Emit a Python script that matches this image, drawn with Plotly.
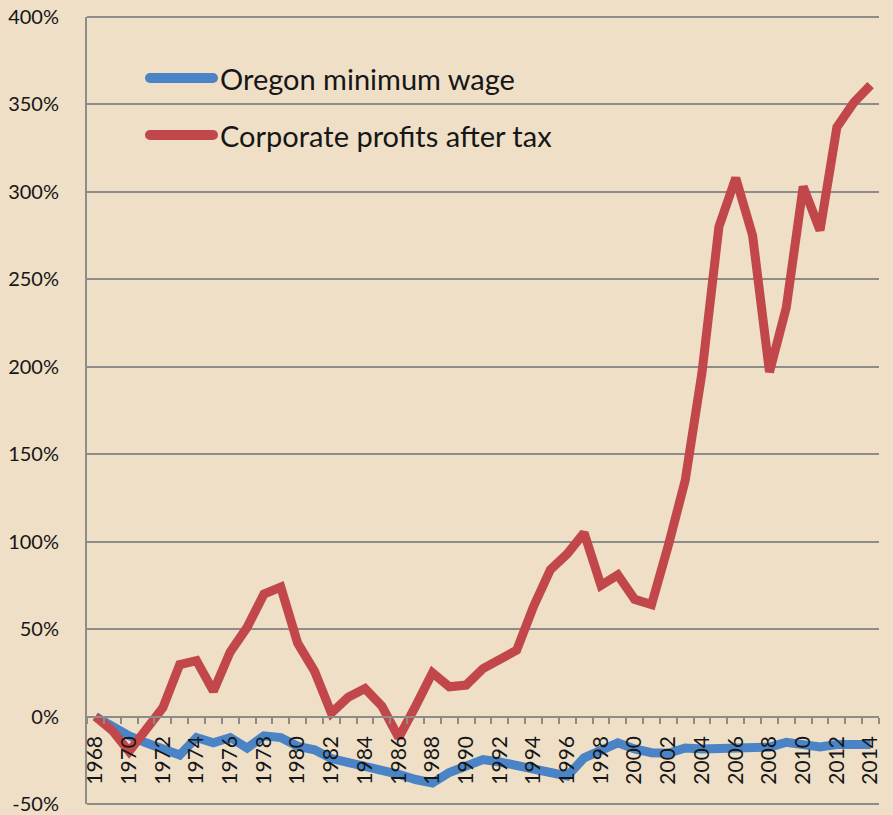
import plotly.graph_objects as go

years = list(range(1968, 2015))

min_wage = [0, -6, -11, -15, -18, -22, -12, -15, -12, -18,
            -11, -12, -17, -19, -24, -26, -29, -30, -33, -36,
            -38, -32, -28.5, -24.6, -26, -28.5, -30, -32, -34, -23.6,
            -19, -15, -18.5, -20.7, -21, -18, -18.5, -18.5, -18, -18,
            -17.5, -14.7, -16.6, -17.4, -16, -16, -16]

profits = [0, -8, -20, -8, 5, 29.7, 32, 14.5, 37, 51,
           70, 74, 42, 26, 2, 11, 16, 6, -12, 6,
           25, 17, 18, 27.4, 33, 38, 63, 84, 93, 105,
           75, 81, 67, 64, 98, 135, 197, 280, 308, 275,
           197, 234, 303, 278, 337, 351, 361]

series_names = ["Oregon minimum wage", "Corporate profits after tax"]

y_ticks = [-50, 0, 50, 100, 150, 200, 250, 300, 350, 400]
y_labels = [f"{v}%" for v in y_ticks]
x_label_years = list(range(1968, 2015, 2))
boundaries = [y - 0.5 for y in range(1968, 2016)]

BLUE = "#4a84c6"
RED = "#c2474a"
GRID = "#8e8c88"
TEXT = "#161616"
FONT = "Lato"

W, H = 893, 815
ML, MR, MT, MB = 87, 14, 17, 11
PW, PH = W - ML - MR, H - MT - MB


def px_to_paper(px, py):
    return (px - ML) / PW, (H - MB - py) / PH


fig = go.Figure()
fig.add_trace(go.Scatter(x=years, y=min_wage, mode="lines", name=series_names[0],
                         line=dict(color=BLUE, width=9), showlegend=False, cliponaxis=False))
fig.add_trace(go.Scatter(x=years, y=profits, mode="lines", name=series_names[1],
                         line=dict(color=RED, width=9), showlegend=False, cliponaxis=False))

ymin, ymax = -50, 400

# gridlines at the range edges (top and bottom of the plot area)
shapes = [dict(type="line", xref="paper", yref="paper", x0=0, x1=1, y0=yp, y1=yp,
               line=dict(color=GRID, width=2), layer="below") for yp in (0, 1)]
annotations = []
# manual legend (decoration)
for name, color, py in [(series_names[0], BLUE, 78), (series_names[1], RED, 135)]:
    x0, y0 = px_to_paper(150, py)
    x1, _ = px_to_paper(213, py)
    shapes.append(dict(type="line", xref="paper", yref="paper", x0=x0, x1=x1, y0=y0, y1=y0,
                       line=dict(color=color, width=10)))
    for cx in (150, 213):
        a0, b0 = px_to_paper(cx - 5, py - 5)
        a1, b1 = px_to_paper(cx + 5, py + 5)
        shapes.append(dict(type="circle", xref="paper", yref="paper", x0=a0, x1=a1, y0=b0, y1=b1,
                           fillcolor=color, line=dict(width=0)))
    tx, ty = px_to_paper(218, py)
    annotations.append(dict(text=name, xref="paper", yref="paper", x=tx, y=ty,
                            xanchor="left", yanchor="middle", showarrow=False,
                            font=dict(size=29, family=FONT, color=TEXT)))

fig.update_layout(
    width=W, height=H,
    margin=dict(l=ML, r=MR, t=MT, b=MB),
    paper_bgcolor="#eedfc6",
    plot_bgcolor="rgba(0,0,0,0)",
    font=dict(family=FONT, color=TEXT),
    showlegend=False,
    shapes=shapes,
    annotations=annotations,
    xaxis=dict(range=[1967.5, 2014.5], anchor="free", position=(0 - ymin) / (ymax - ymin),
               automargin=False, ticklabeloverflow="allow",
               showgrid=False, zeroline=False, showline=True, linecolor=GRID, linewidth=2,
               tickmode="array", tickvals=x_label_years, ticktext=[str(v) for v in x_label_years],
               tickangle=-90, ticks="", ticklabelstandoff=10,
               tickfont=dict(size=21, family=FONT, color=TEXT),
               minor=dict(tickmode="array", tickvals=boundaries, ticks="outside", ticklen=6,
                          tickcolor=GRID, tickwidth=2, showgrid=False)),
    yaxis=dict(range=[ymin, ymax], tickmode="array", tickvals=y_ticks, ticktext=y_labels,
               automargin=False, ticklabeloverflow="allow",
               showgrid=True, gridcolor=GRID, gridwidth=2,
               zeroline=True, zerolinecolor=GRID, zerolinewidth=2,
               showline=True, linecolor=GRID, linewidth=2,
               ticks="", ticklabelstandoff=22,
               tickfont=dict(size=20, family=FONT, color=TEXT)),
)

fig.write_html("out.html", config={"displayModeBar": False},
               post_script="document.body.style.margin='0';document.body.style.background='#eedfc6';")
